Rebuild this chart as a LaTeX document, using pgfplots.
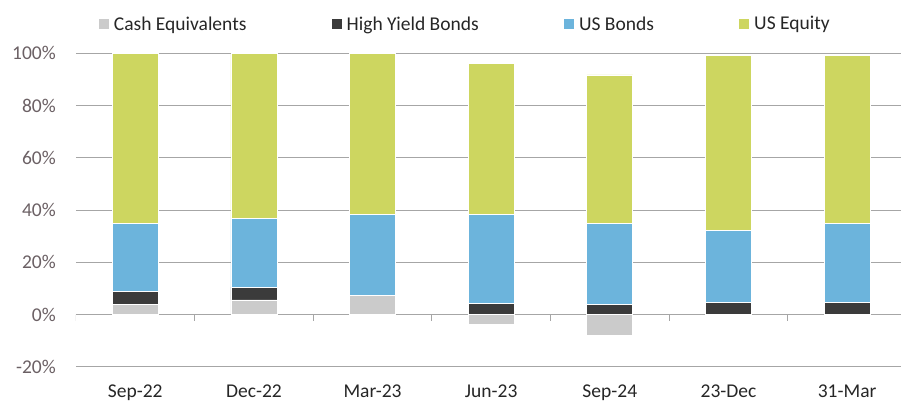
\documentclass[border=0pt]{standalone}
\usepackage{pgfplots}
\pgfplotsset{compat=1.18}
\usepackage{fontspec}
\setmainfont{Carlito}
\definecolor{cashc}{HTML}{CBCBCB}
\definecolor{hyc}{HTML}{3B3B3B}
\definecolor{bondc}{HTML}{6CB4DC}
\definecolor{eqc}{HTML}{CDD660}
\definecolor{gridc}{HTML}{A6A6A6}
\definecolor{ylab}{HTML}{6B6064}
\definecolor{xlab}{HTML}{262626}
\begin{document}
\begin{tikzpicture}
\begin{axis}[
  scale only axis,
  width=825bp, height=313.7bp,
  ybar stacked,
  bar width=46bp,
  xmin=-0.5, xmax=6.45,
  ymin=-20, ymax=100,
  ytick={-20,0,20,40,60,80,100},
  yticklabels={-20\%,0\%,20\%,40\%,60\%,80\%,100\%},
  xtick={0,1,2,3,4,5,6},
  xticklabels={Sep-22,Dec-22,Mar-23,Jun-23,Sep-24,23-Dec,31-Mar},
  ymajorgrids,
  grid style={draw=gridc, line width=1bp},
  axis line style={draw=none},
  major tick length=0pt,
  tick label style={font=\fontsize{19.6pt}{22pt}\selectfont},
  yticklabel style={anchor=east, inner sep=0pt, xshift=-20bp, text=ylab},
  xticklabel style={anchor=base, inner sep=0pt, yshift=-31bp, text=xlab},
  legend columns=4,
  legend style={draw=none, fill=none, at={(0.0230,1.0934)}, anchor=west,
    font=\fontsize{19.6pt}{22pt}\selectfont, text=xlab,
    nodes={inner sep=0pt},
    /tikz/every odd column/.append style={column sep=4bp},
    /tikz/every even column/.append style={column sep=84.5bp}},
  legend image code/.code={\fill[#1] (0bp,-5.5bp) rectangle (11bp,5.5bp);},
  every axis plot/.append style={draw=white, line width=0.8bp},
]
\addplot[fill=cashc] coordinates {(0,3.7) (1,5.6) (2,7.3) (3,-3.6) (4,-7.8) (5,-0.5) (6,-0.3)};
\addplot[fill=hyc] coordinates {(0,5.1) (1,4.9) (2,0) (3,4.4) (4,4.0) (5,4.7) (6,4.7)};
\addplot[fill=bondc] coordinates {(0,26.2) (1,26.3) (2,31.1) (3,34.0) (4,30.8) (5,27.4) (6,30.3)};
\addplot[fill=eqc] coordinates {(0,65.0) (1,63.2) (2,61.6) (3,57.8) (4,56.9) (5,66.9) (6,64.2)};
\legend{Cash Equivalents, High Yield Bonds, US Bonds, US Equity}
\foreach \xx in {-0.5,0.5,1.5,2.5,3.5,4.5,5.5} {
  \edef\tmp{\noexpand\draw[gridc, line width=1bp] (axis cs:\xx,0) -- ([yshift=-6bp]axis cs:\xx,0);}\tmp
}
\end{axis}
\path (current axis.south west) ++(-76bp,-36bp) rectangle ++(901bp,403bp);
\end{tikzpicture}
\end{document}
